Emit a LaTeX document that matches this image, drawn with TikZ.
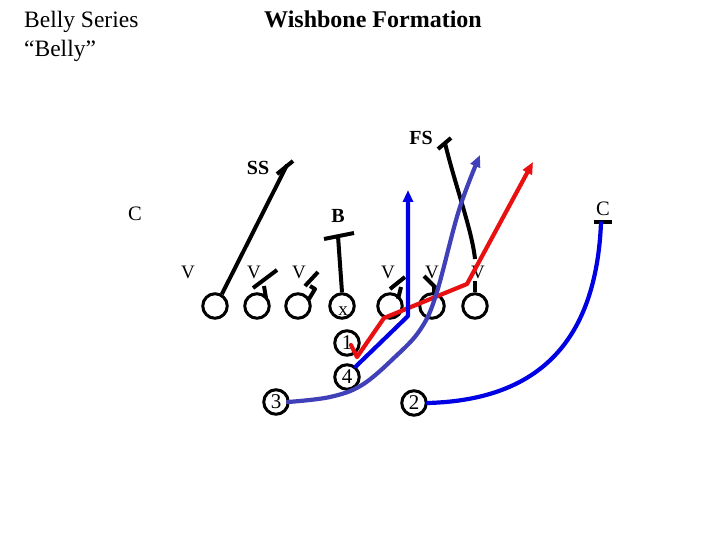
\documentclass[tikz,border=0pt]{standalone}
\usepackage{fontspec}
\setmainfont{Liberation Serif}
\usetikzlibrary{arrows.meta}
\definecolor{blueA}{RGB}{0,0,228}
\definecolor{purpleA}{RGB}{64,64,184}
\definecolor{redA}{RGB}{232,16,16}
\begin{document}
\begin{tikzpicture}[x=1pt,y=-1pt,
  player/.style={circle,draw,line width=3pt,minimum size=24.5pt,inner sep=0pt,font=\fontsize{21}{21}\selectfont},
  blk/.style={line width=4pt,black,line join=round},
  vlbl/.style={font=\fontsize{19}{19}\selectfont,inner sep=0pt},
  blbl/.style={font=\bfseries\fontsize{20}{20}\selectfont,inner sep=0pt},
  clbl/.style={font=\fontsize{20.5}{20.5}\selectfont,inner sep=0pt},
  route/.style={line width=4.2pt,line cap=round,line join=round},
  tipA/.style={-{Triangle[length=12pt,width=10pt]}}]
\useasboundingbox (0,0) rectangle (720,540);

% titles
\node[anchor=west,inner sep=0pt,font=\fontsize{23.5}{23.5}\selectfont] (t1) at (24,22) {Belly Series};
\node[anchor=west,inner sep=0pt,font=\fontsize{23.5}{23.5}\selectfont] (t2) at (24,51) {“Belly”};
\node[inner sep=0pt,font=\bfseries\fontsize{24}{24}\selectfont] (title) at (373,19) {Wishbone Formation};

% offense line
\node[player] (lt) at (215,306) {};
\node[player] (lg) at (257,306) {};
\node[player] (cn) at (298,306) {};
\node[player] (xx) at (342,306) {};
\node[player] (rg) at (390,306) {};
\node[player] (rt) at (432,306) {};
\node[player] (te) at (475,306) {};
\node[vlbl] (xl) at (343,311) {x};

% backs
\node[player] (b1) at (347,343) {1};
\node[player] (b4) at (347,377) {4};
\node[player] (b3) at (276,402) {3};
\node[player] (b2) at (414,403) {2};

% defense labels
\node[vlbl] (v1) at (188,272) {V};
\node[vlbl] (v2) at (254,272) {V};
\node[vlbl] (v3) at (299,272) {V};
\node[vlbl] (v4) at (388,272) {V};
\node[vlbl] (v5) at (432,272) {V};
\node[vlbl] (v6) at (478,272) {V};
\node[blbl] (ss) at (258,168) {SS};
\node[blbl] (fs) at (421,138) {FS};
\node[blbl] (bb) at (338,216) {B};
\node[clbl] (cl) at (135,214) {C};
\node[clbl] (cr) at (603,209) {C};

% SS route
\coordinate (ssE) at (287,165);
\draw[blk] (lt.60) -- (ssE);
\draw[blk] (277,174) -- (293,161);

% FS
\draw[blk] (438,149) -- (451,138);
\coordinate (fsS) at (445,143);
\coordinate (fsE) at (475,259);
\draw[blk] (fsS) .. controls (455,185) and (472,230) .. (fsE);
\draw[blk] (te.north) -- (475,281);

% B
\draw[blk] (324,239) -- (354,233);
\draw[blk] (338,236) -- (xx.north);

% blocks
\draw[blk] (266,298) -- (264,286);
\draw[blk] (253,288) -- (277,270);
\draw[blk] (309,299) -- (315,289) -- (310,286);
\draw[blk] (305,286) -- (318,272);
\draw[blk] (398,299) -- (401,287);
\draw[blk] (390,289) -- (405,277);
\draw[blk] (434,294) -- (434,286);
\draw[blk] (424,276) -- (437,289);

% C right cap
\draw[blk] (594,222) -- (612,222);

% red route
\coordinate (r0) at (351,345);
\coordinate (r1) at (357,357);
\coordinate (r2) at (384,318);
\coordinate (r3) at (467,284);
\coordinate (r4) at (533,162);
\draw[route,redA,tipA] (r0) -- (r1) -- (r2) -- (r3) -- (r4);

% blue dive route
\coordinate (bl1) at (408,316);
\coordinate (bl2) at (408,190);
\draw[route,blueA,tipA] (b4.50) -- (bl1) -- (bl2);

% purple route
\draw[route,purpleA,tipA] plot[smooth,tension=0.6] coordinates {(288,402) (330,397) (362,385) (395,357) (420,330) (436,295) (459,210) (480,155)};

% blue C route
\coordinate (cr0) at (601,223);
\draw[route,blueA] (cr0) .. controls (596,340) and (540,400) .. (b2.east);
\end{tikzpicture}
\end{document}
